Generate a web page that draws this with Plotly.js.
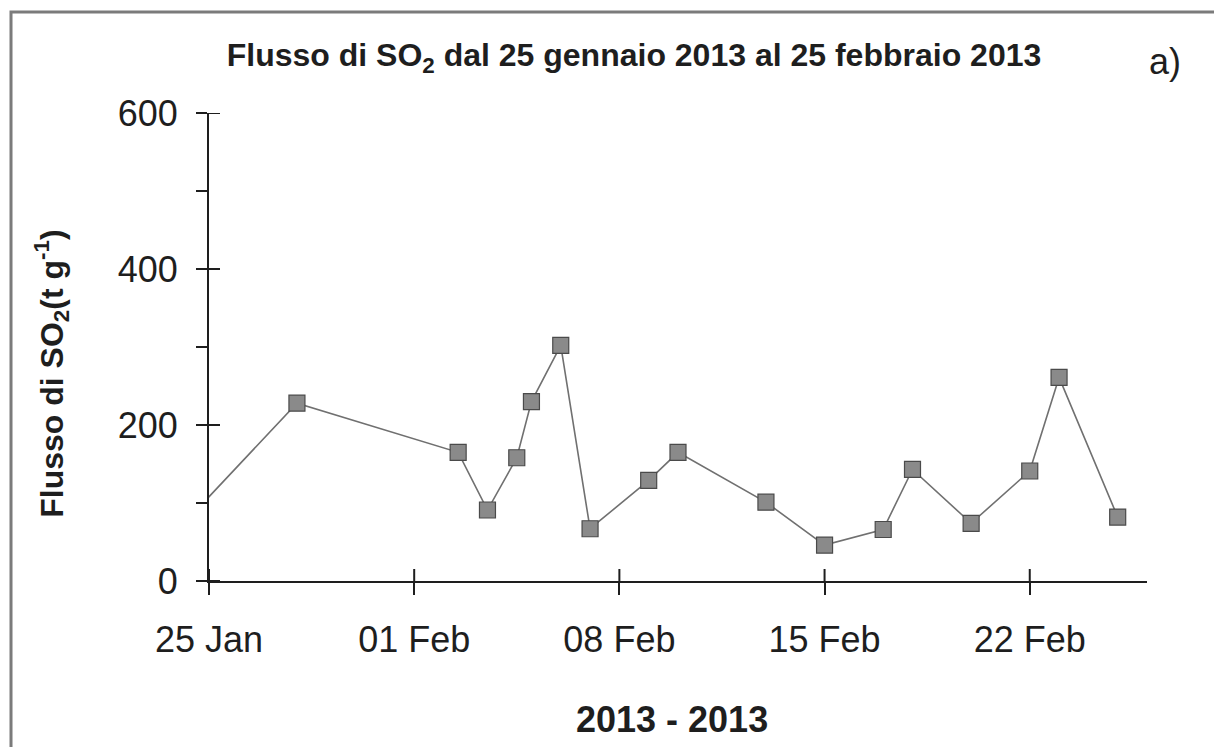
<!DOCTYPE html>
<html>
<head>
<meta charset="utf-8">
<script src="https://cdn.plot.ly/plotly-3.0.1.min.js"></script>
<style>
  html, body { margin: 0; padding: 0; background: #ffffff; overflow: hidden; }
  #chart { width: 1214px; height: 747px; overflow: hidden; }
</style>
</head>
<body>
<div id="chart"></div>
<script>
// Daily SO2 flux measurements (t/day), late January to late February 2013
const sampleDates = [
  '2013-01-24', '2013-01-28', '2013-02-02 12:00', '2013-02-03 12:00',
  '2013-02-04 12:00', '2013-02-05', '2013-02-06', '2013-02-07',
  '2013-02-09', '2013-02-10', '2013-02-13', '2013-02-15',
  '2013-02-17', '2013-02-18', '2013-02-20', '2013-02-22',
  '2013-02-23', '2013-02-25'
];
const so2Flux = [68, 228, 165, 91, 158, 230, 302, 67, 129, 165, 101, 46, 66, 143, 74, 141, 261, 82];

// Axis ticks
const xTickDates = ['2013-01-25', '2013-02-01', '2013-02-08', '2013-02-15', '2013-02-22'];
const xTickLabels = ['25 Jan', '01 Feb', '08 Feb', '15 Feb', '22 Feb'];
const yTickValues = [0, 200, 400, 600];
const xRange = ['2013-01-25', '2013-02-26'];
const yRange = [0, 600];

const FONT = 'Liberation Sans, Arial, Helvetica, sans-serif';
const INK = '#1e1e1e';

// plot-area geometry (pixels) used to place the free-floating labels
const L = 209, R = 67, T = 113, B = 165.5;
const W = 1214 - L - R, H = 747 - T - B;
const px = x => (x - L) / W;
const py = y => (747 - B - y) / H;
const TICK_LEN = 12;

const trace = {
  x: sampleDates,
  y: so2Flux,
  type: 'scatter',
  mode: 'lines+markers',
  line: { color: '#707070', width: 1.6 },
  marker: {
    symbol: 'square',
    size: 16,
    color: '#8a8a8a',
    line: { color: '#4a4a4a', width: 1.2 }
  },
  cliponaxis: true,
  hoverinfo: 'x+y'
};

// the major ticks cross their axis: the outer half comes from the axis,
// the inner half is drawn here as short segments at the same tick values
const innerTicks = [
  ...xTickDates.map(d => ({
    type: 'line', xref: 'x', yref: 'paper',
    x0: d, x1: d, y0: 0, y1: TICK_LEN / H,
    line: { color: INK, width: 2 }, layer: 'above'
  })),
  ...yTickValues.map(v => ({
    type: 'line', xref: 'paper', yref: 'y',
    x0: 0, x1: (TICK_LEN - 1) / W, y0: v, y1: v,
    line: { color: INK, width: 2 }, layer: 'above'
  }))
];

// figure frame: only its left and top edges fall inside the page
const frameLeft = px(11), frameTop = py(12), frameBottom = py(752), frameRight = px(1218);
const frame = {
  type: 'path',
  xref: 'paper', yref: 'paper',
  path: `M ${frameLeft},${frameBottom} L ${frameLeft},${frameTop} L ${frameRight},${frameTop}`,
  line: { color: '#7b7b7b', width: 3 },
  layer: 'above'
};

const layout = {
  width: 1214,
  height: 747,
  margin: { l: L, r: R, t: T, b: B },
  paper_bgcolor: '#ffffff',
  plot_bgcolor: '#ffffff',
  showlegend: false,
  font: { family: FONT, color: INK },
  title: {
    text: 'Flusso di SO<sub>2</sub> dal 25 gennaio 2013 al 25 febbraio 2013',
    font: { family: FONT, size: 32, weight: 'bold', color: INK },
    x: 634 / 1214,
    xanchor: 'center',
    y: 1 - 55 / 747,
    yanchor: 'middle'
  },
  xaxis: {
    type: 'date',
    range: xRange,
    tickmode: 'array',
    tickvals: xTickDates,
    ticktext: xTickLabels,
    ticks: 'outside',
    ticklen: TICK_LEN,
    tickwidth: 2,
    tickcolor: INK,
    showline: true,
    linecolor: INK,
    linewidth: 2,
    showgrid: false,
    zeroline: false,
    tickfont: { family: FONT, size: 36, color: INK },
    ticklabelstandoff: 14
  },
  yaxis: {
    range: yRange,
    tickmode: 'array',
    tickvals: yTickValues,
    ticks: 'outside',
    ticklen: TICK_LEN - 1,
    tickwidth: 2,
    tickcolor: INK,
    minor: { dtick: 100, ticks: 'outside', ticklen: TICK_LEN - 1, tickwidth: 2, tickcolor: INK, showgrid: false },
    showline: true,
    linecolor: INK,
    linewidth: 2,
    showgrid: false,
    zeroline: false,
    tickfont: { family: FONT, size: 36, color: INK },
    ticklabelstandoff: 11
  },
  annotations: [
    {
      text: 'Flusso di SO<sub>2</sub>(t g<sup>-1</sup>)',
      textangle: -90,
      xref: 'paper', yref: 'paper',
      x: px(52), y: py(374),
      xanchor: 'center', yanchor: 'middle',
      showarrow: false,
      font: { family: FONT, size: 32, weight: 'bold', color: INK }
    },
    {
      text: '2013 - 2013',
      xref: 'paper', yref: 'paper',
      x: px(672), y: py(720),
      xanchor: 'center', yanchor: 'middle',
      showarrow: false,
      font: { family: FONT, size: 36, weight: 'bold', color: INK }
    },
    {
      text: 'a)',
      xref: 'paper', yref: 'paper',
      x: px(1165), y: py(61),
      xanchor: 'center', yanchor: 'middle',
      showarrow: false,
      font: { family: FONT, size: 36, color: INK }
    }
  ],
  shapes: [frame, ...innerTicks]
};

Plotly.newPlot('chart', [trace], layout, { staticPlot: true, displayModeBar: false });
</script>
</body>
</html>
